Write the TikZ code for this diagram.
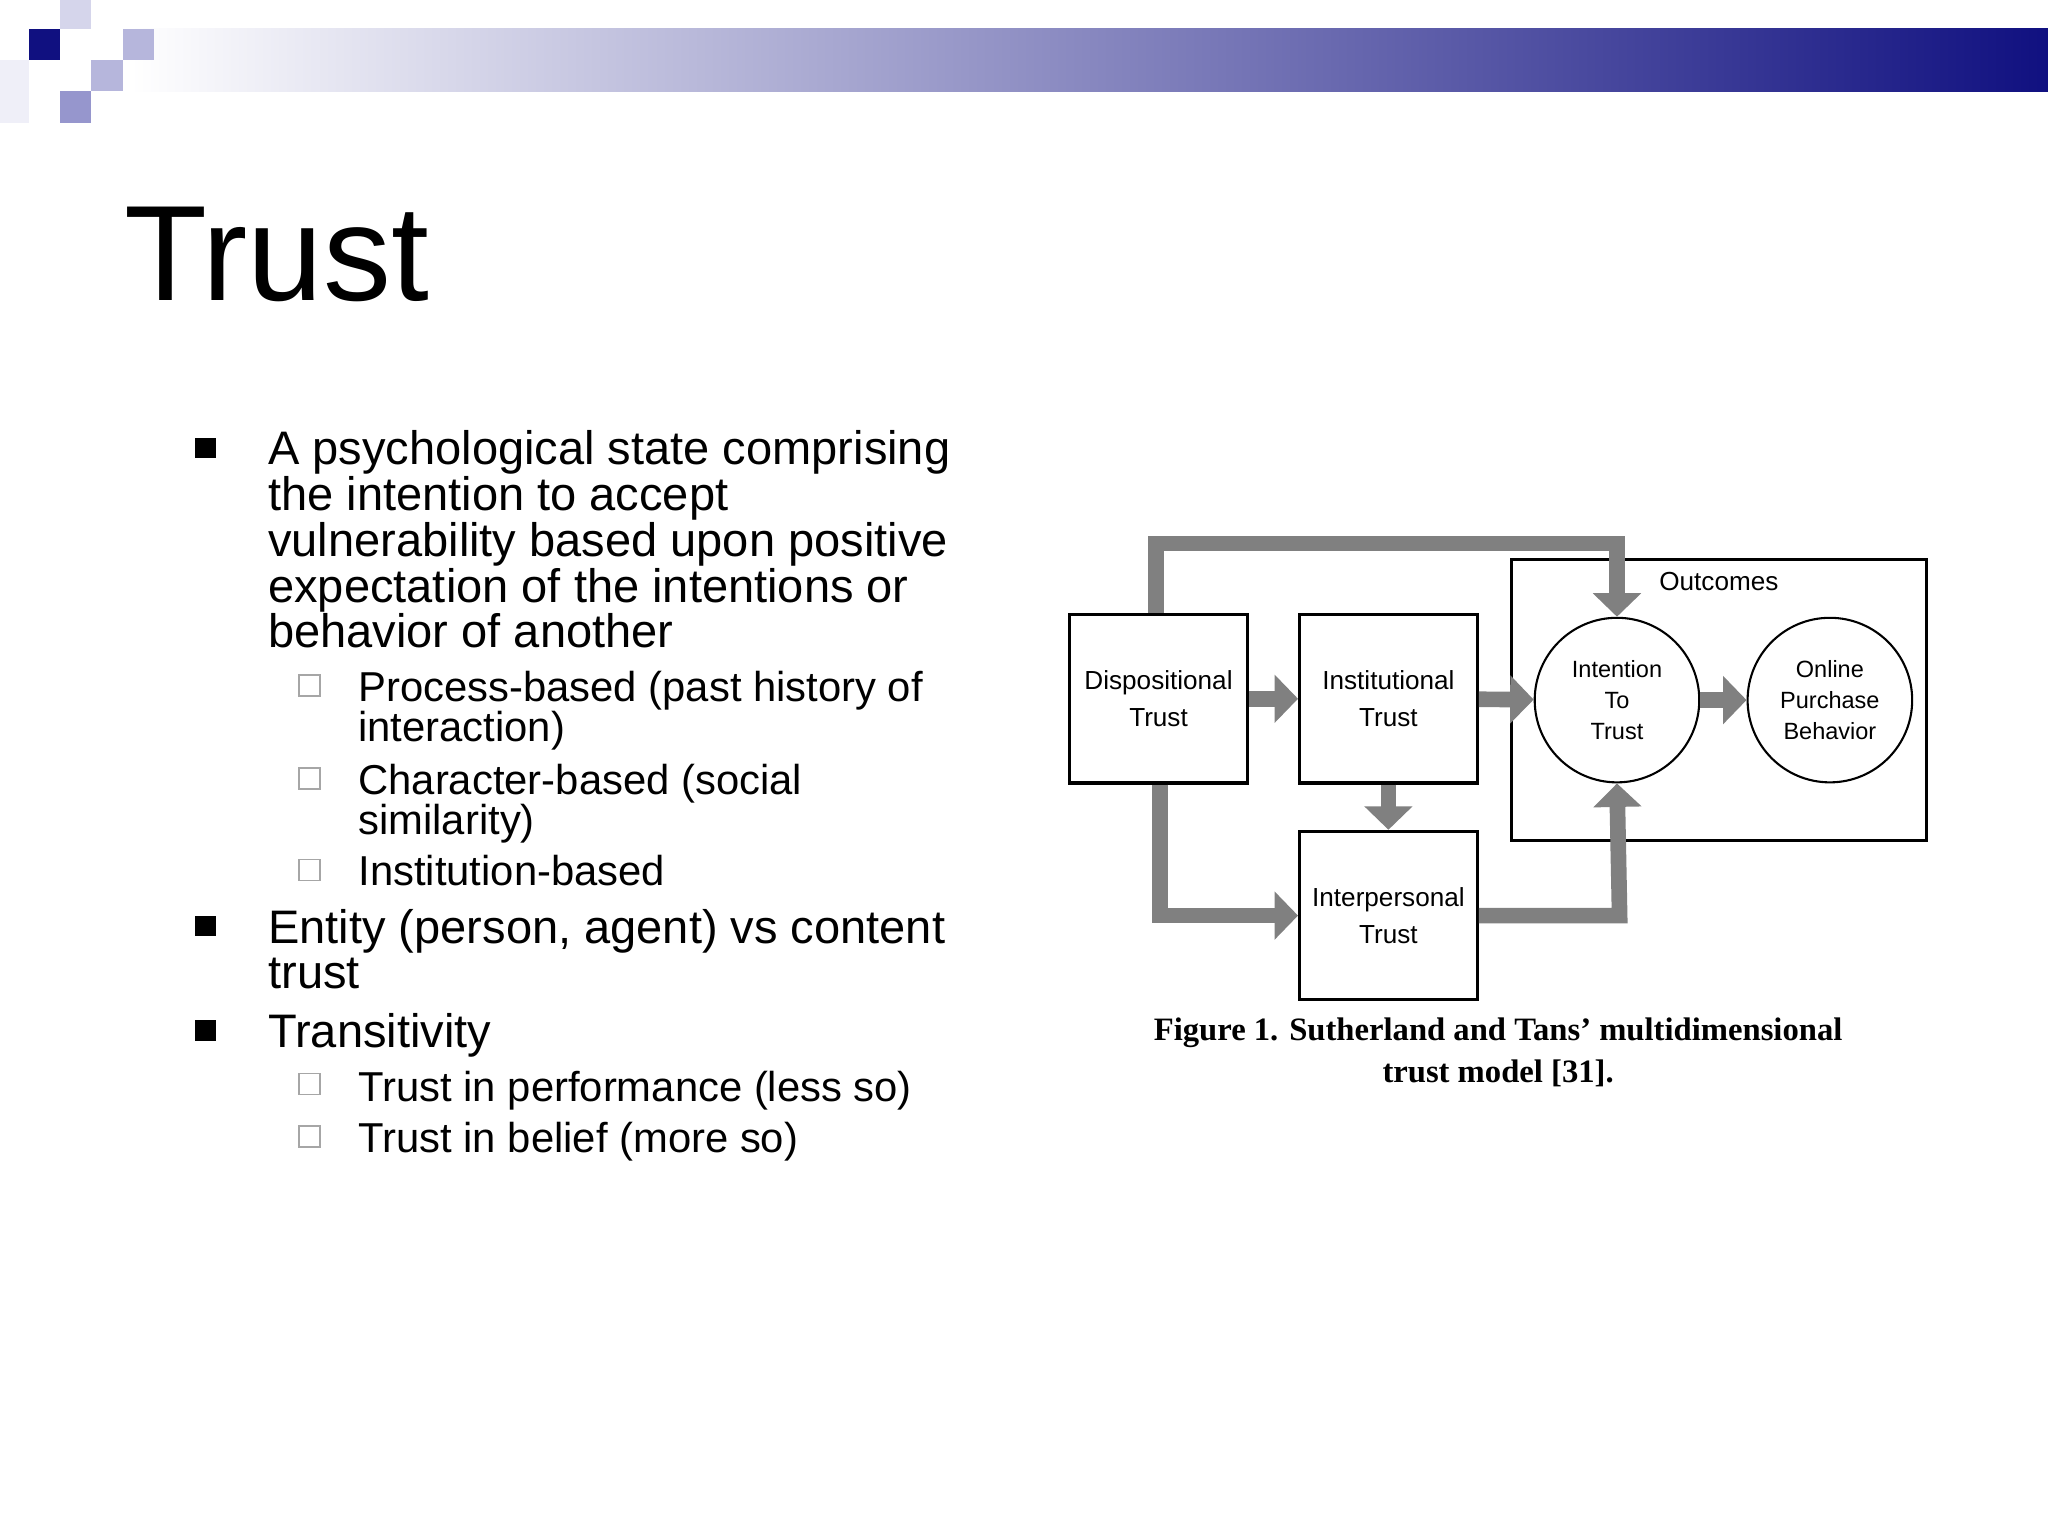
\documentclass[tikz,border=0pt]{standalone}
\usepackage{fontspec}
\setmainfont{Liberation Sans}
\newfontfamily\capfont{Liberation Serif}
\usetikzlibrary{arrows.meta}
\definecolor{navy}{RGB}{16,16,128}
\definecolor{lav}{RGB}{150,150,205}
\definecolor{garr}{RGB}{128,128,128}
\tikzset{
  mainline/.style={anchor=base west,inner sep=0pt,font=\fontsize{18pt}{18pt}\selectfont},
  subline/.style={anchor=base west,inner sep=0pt,font=\fontsize{16pt}{16pt}\selectfont},
  bigbul/.style={fill=black,minimum size=8pt,inner sep=0pt},
  smallbul/.style={draw=gray!70,line width=0.6pt,minimum size=8pt,inner sep=0pt},
  box/.style={draw,line width=1.2pt,minimum width=68pt,minimum height=64.5pt,inner sep=0pt,align=center,font=\fontsize{10pt}{14pt}\selectfont},
  circ/.style={draw,circle,line width=0.8pt,minimum size=63pt,inner sep=0pt,align=center,font=\fontsize{9pt}{12pt}\selectfont},
  garrow/.style={draw=garr,line width=6pt,-{Triangle[length=9pt,width=18pt]}},
}
\begin{document}
\begin{tikzpicture}[x=0.5pt,y=-0.5pt]
\useasboundingbox (0,0) rectangle (1568,1176);
\fill[white] (0,0) rectangle (1568,1176);
% header
\shade[left color=white,right color=navy] (100,22) rectangle (1568,70);
\fill[white!85!lav] (0,46) rectangle (22,94);
\fill[navy] (22,22) rectangle (46,46);
\fill[lav!70] (94,22) rectangle (118,46);
\fill[lav!70] (70,46) rectangle (94,70);
\fill[lav] (46,70) rectangle (70,94);
\fill[lav!40] (46,0) rectangle (70,22);
% title
\node[anchor=base west,inner sep=0pt,font=\fontsize{52pt}{52pt}\selectfont] (title) at (95,230) {Trust};
% bullets
\node[bigbul] (b1) at (157,343) {};
\node[mainline] (l1) at (205,356) {A psychological state comprising};
\node[mainline] (l2) at (205,391) {the intention to accept};
\node[mainline] (l3) at (205,426) {vulnerability based upon positive};
\node[mainline] (l4) at (205,461) {expectation of the intentions or};
\node[mainline] (l5) at (205,496) {behavior of another};
\node[smallbul] (s1) at (237,525) {};
\node[subline] (l6) at (274,537) {Process-based (past history of};
\node[subline] (l7) at (274,568) {interaction)};
\node[smallbul] (s2) at (237,596) {};
\node[subline] (l8) at (274,608) {Character-based (social};
\node[subline] (l9) at (274,639) {similarity)};
\node[smallbul] (s3) at (237,666) {};
\node[subline] (l10) at (274,678) {Institution-based};
\node[bigbul] (b2) at (157,709) {};
\node[mainline] (l11) at (205,722) {Entity (person, agent) vs content};
\node[mainline] (l12) at (205,757) {trust};
\node[bigbul] (b3) at (157,789) {};
\node[mainline] (l13) at (205,802) {Transitivity};
\node[smallbul] (s4) at (237,830) {};
\node[subline] (l14) at (274,843) {Trust in performance (less so)};
\node[smallbul] (s5) at (237,870) {};
\node[subline] (l15) at (274,882) {Trust in belief (more so)};
% diagram
\node[box] (disp) at (887,535) {Dispositional\\Trust};
\node[box] (inst) at (1063,535) {Institutional\\Trust};
\node[box] (inter) at (1063,701) {Interpersonal\\Trust};
\node[draw,line width=1.2pt,minimum width=159pt,minimum height=107.5pt,inner sep=0pt] (outc) at (1316,536) {};
\node[font=\fontsize{10pt}{12pt}\selectfont] (outl) at (1316,445) {Outcomes};
\node[circ] (itt) at (1238,536) {Intention\\To\\Trust};
\node[circ] (opb) at (1401,536) {Online\\Purchase\\Behavior};
\coordinate (tl) at (885,416);
\coordinate (tr) at (1238,416);
\coordinate (bl) at (888,701);
\coordinate (br) at (1240,701);
\draw[garrow] (disp) -- (inst);
\draw[garrow] (inst) -- (itt);
\draw[garrow] (itt) -- (opb);
\draw[garrow] (inst) -- (inter);
\draw[garrow] (disp.north -| tl) -- (tl) -- (tr) -- (itt.north);
\draw[garrow] (disp.south -| bl) -- (bl) -- (inter.west);
\draw[garrow] (inter.east) -- (br) -- (itt.south);
\node[font=\capfont\bfseries\fontsize{12.5pt}{16pt}\selectfont,align=center,inner sep=0pt] (cap) at (1147,806) {Figure 1. Sutherland and Tans’ multidimensional\\trust model [31].};
\end{tikzpicture}
\end{document}
